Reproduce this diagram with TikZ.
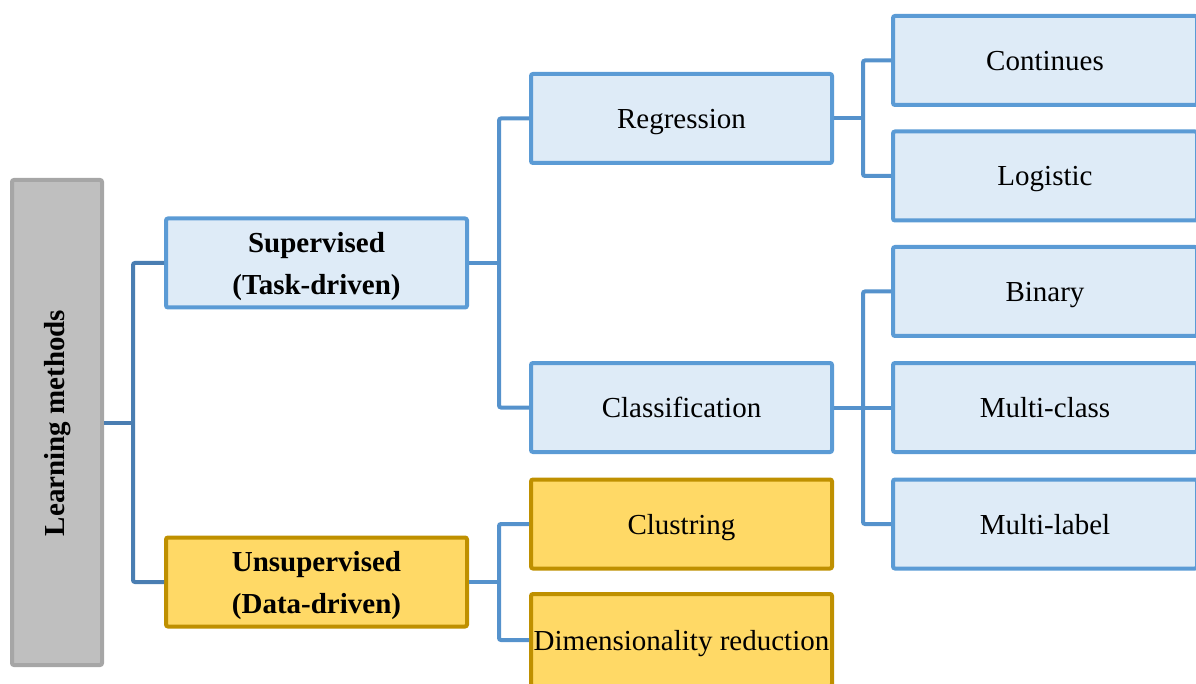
\documentclass[tikz,border=0pt]{standalone}
\usepackage{fontspec}
\setmainfont{Liberation Serif}
\begin{document}
\definecolor{boxblue}{HTML}{DEEBF7}
\definecolor{edgeblue}{HTML}{5B9BD5}
\definecolor{linkdark}{HTML}{4A7EB2}
\definecolor{linkblue}{HTML}{5592CC}
\definecolor{greyfill}{HTML}{BFBFBF}
\definecolor{greyedge}{HTML}{A6A6A6}
\definecolor{goldfill}{HTML}{FFD966}
\definecolor{goldedge}{HTML}{BF9000}
\begin{tikzpicture}[x=1pt,y=-1pt,
  every node/.style={font=\fontsize{29}{42}\selectfont, inner sep=0pt, rounded corners=2pt, line width=4pt},
  bluebox/.style={draw=edgeblue, fill=boxblue, minimum width=301pt, minimum height=89pt, align=center, text depth=0pt},
  goldbox/.style={draw=goldedge, fill=goldfill, minimum width=301pt, minimum height=89pt, align=center, text depth=0pt},
  rootbox/.style={draw=greyedge, fill=greyfill, minimum width=90pt, minimum height=485pt},
  link/.style={draw=linkblue, line width=4pt, rounded corners=2pt},
  darklink/.style={draw=linkdark, line width=4pt, rounded corners=2pt}]
\useasboundingbox (0,0) rectangle (1196,684);

% root
\node[rootbox] (root) at (57,422.5) {};
\node[rotate=90, font=\fontsize{29}{42}\selectfont\bfseries] (rootlabel) at (58,423) {Learning methods};

% second level
\node[bluebox, font=\fontsize{29}{42}\selectfont\bfseries] (sup) at (316.5,263) {Supervised\\(Task-driven)};
\node[goldbox, font=\fontsize{29}{42}\selectfont\bfseries] (uns) at (316.5,582) {Unsupervised\\(Data-driven)};

% third level
\node[bluebox] (reg) at (681.5,118.5) {Regression};
\node[bluebox] (cls) at (681.5,407.5) {Classification};
\node[goldbox] (clu) at (681.5,524) {Clustring};
\node[goldbox, minimum height=92pt] (dim) at (681.5,640) {Dimensionality reduction};

% fourth level
\node[bluebox, minimum width=304pt] (con) at (1045,60.5) {Continues};
\node[bluebox, minimum width=304pt] (log) at (1045,176) {Logistic};
\node[bluebox, minimum width=304pt] (bin) at (1045,291.5) {Binary};
\node[bluebox, minimum width=304pt] (mcl) at (1045,407.5) {Multi-class};
\node[bluebox, minimum width=304pt] (mlb) at (1045,524) {Multi-label};

% connectors: each parent splits at a vertical trunk
\draw[darklink] (root.east) -- ++(29,0) coordinate (rj);
\draw[darklink] (sup.west) -| (rj) |- (uns.west);

\draw[link] (sup.east) -- ++(30,0) coordinate (sj);
\draw[link] (reg.west) -| (sj) |- (cls.west);

\draw[link] (uns.east) -- ++(30,0) coordinate (uj);
\draw[link] (clu.west) -| (uj) |- (dim.west);

\draw[link] (reg.east) -- ++(29,0) coordinate (gj);
\draw[link] (con.west) -| (gj) |- (log.west);

\draw[link] (cls.east) -- ++(29,0) coordinate (cj) -- (mcl.west);
\draw[link] (bin.west) -| (cj) |- (mlb.west);
\end{tikzpicture}
\end{document}
